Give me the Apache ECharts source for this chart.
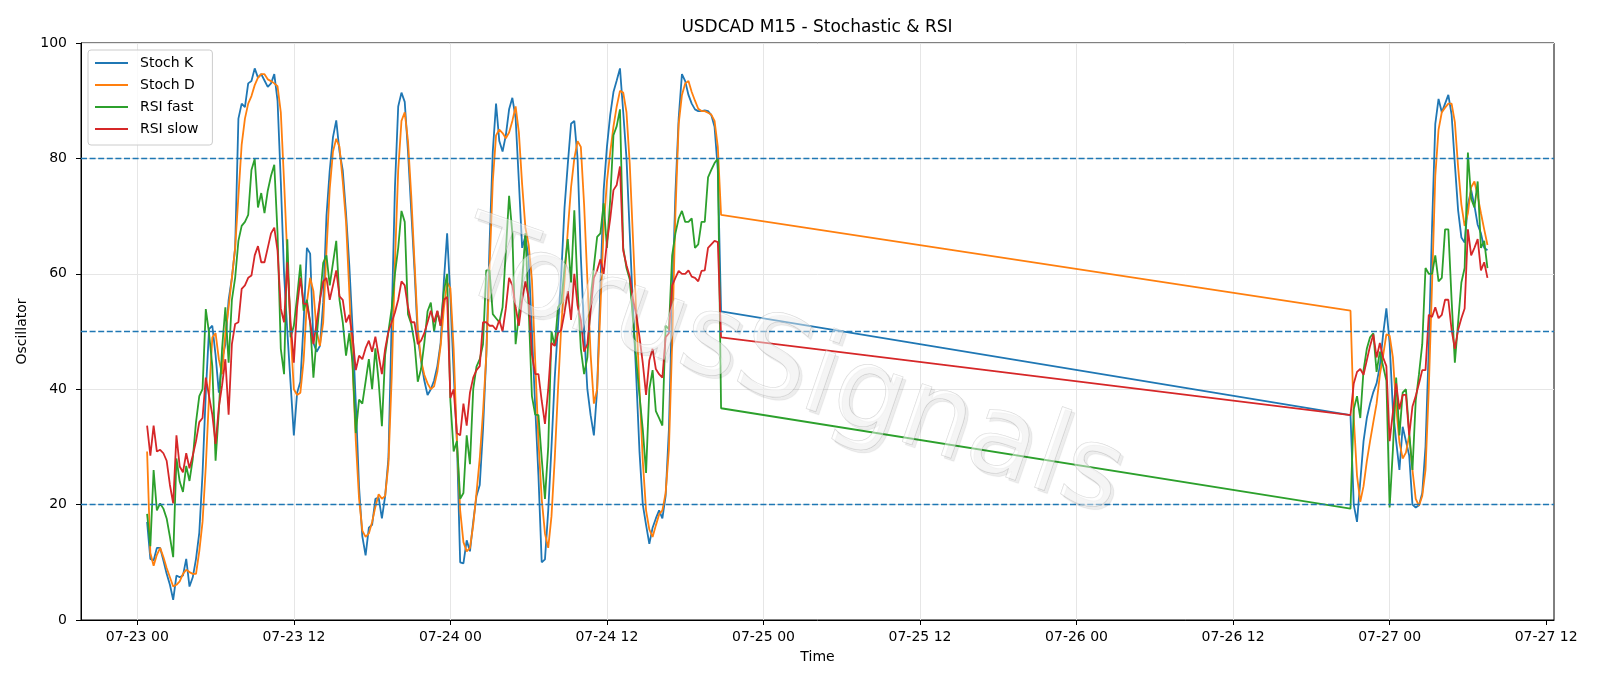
<!DOCTYPE html>
<html>
<head>
<meta charset="utf-8">
<title>USDCAD M15 - Stochastic & RSI</title>
<script src="https://cdn.jsdelivr.net/npm/echarts@6/dist/echarts.min.js"></script>
<style>
  html, body { margin: 0; padding: 0; background: #fff; }
  #main { width: 1600px; height: 686px; }
</style>
</head>
<body>
<div id="main"></div>
<script>
const chart = echarts.init(document.querySelector('#main'));

// 15 minute bars, two sessions
const STEP = 15 * 60 * 1000;
const seg1Start = new Date(2025, 6, 23, 0, 45).getTime();
const seg2Start = new Date(2025, 6, 26, 21, 0).getTime();

// x tick positions: [day of July, hour]
const tickTimes = [
    [23, 0], [23, 12], [24, 0], [24, 12], [25, 0],
    [25, 12], [26, 0], [26, 12], [27, 0], [27, 12]
];

const stochK1 = [
    17, 10.6, 10.3, 12.5, 12.5, 10.3, 8, 6.1, 3.5, 7.7,
    7.4, 7.7, 10.6, 5.8, 7.4, 10.6, 15.1, 25.4, 39.4, 50.4,
    51, 45.9, 39.4, 45.2, 47.8, 55.5, 59.3, 64.5, 86.9, 89.5,
    88.9, 93, 93.4, 95.6, 94, 94.6, 93.5, 92.4, 93, 94.6,
    90, 76, 60, 50, 41, 32, 39.4, 41.3, 51.6, 64.5,
    63.5, 48, 46.5, 47.5, 55, 70, 77.9, 83.7, 86.6, 81.2,
    77.9, 70.5, 61.5, 50.5, 37.5, 23, 14.5, 11.2, 16, 16.5,
    21, 21.2, 17.6, 21.5, 28, 52, 75, 89, 91.4, 89.8,
    81.2, 70.9, 60.6, 49, 45, 41.5, 39, 40, 41.5, 44,
    48, 58.7, 67, 56, 43, 31, 10, 9.8, 13.8, 11.9,
    17, 21.5, 23.4, 33, 45.8, 65, 81.2, 89.5, 83, 81.2,
    84, 88.5, 90.5, 87, 76, 64.5, 66.5, 62.5, 50, 37,
    25, 10, 10.5, 19, 30, 42, 51, 60, 71.5, 79,
    86, 86.5, 80, 63, 50, 40, 35.5, 32, 40, 58,
    74.5, 82, 87.5, 91.5, 93.5, 95.6, 88, 80, 67, 54,
    42, 29, 20, 16.5, 13.2, 16, 17.6, 19, 17.6, 21.5,
    33, 55, 74, 87, 94.6, 93.4, 91, 89.5, 88.5, 88.2,
    88.2, 88.3, 88.2, 87.5, 85.5, 78, 53.5
];
const stochD1 = [
    29.2, 11.6, 9.4, 11.3, 12.5, 10.9, 9, 7.4, 5.8, 6.1,
    6.7, 8, 8.7, 8.3, 8, 8, 11.9, 17, 26.6, 38.8,
    49, 49.7, 45.2, 42.6, 49.7, 54.2, 59.3, 64.5, 73.5, 82.4,
    86.9, 89.5, 90.8, 92.7, 94, 94.6, 94.6, 93.7, 93.4, 93,
    92.5, 88, 76, 63, 50, 40, 39, 39.4, 45, 55,
    59.3, 57, 50, 47.5, 51.6, 64, 74.7, 81.2, 83.4, 82,
    76, 69, 57, 44, 31, 21, 15.5, 14.4, 15, 17,
    19.6, 21.8, 21, 21.5, 27, 42, 62, 78, 86.5, 88,
    83, 73.5, 62, 50.5, 45, 42.5, 41, 40, 40.5, 43,
    47.5, 54, 58.5, 57.5, 47, 31, 19, 13.5, 11.9, 12.5,
    16.5, 22, 28, 36, 45.8, 61, 76, 84, 85, 84.4,
    83.5, 84.5, 86.5, 89, 84.5, 75.5, 68, 65, 59, 45,
    31, 21, 15, 12.5, 18, 28, 40, 51, 59, 67.5,
    75, 80, 83, 82, 72, 59, 46, 37.5, 40, 54,
    68, 76, 81, 85.5, 89, 91.7, 91.4, 88, 79, 66,
    53, 40, 27.5, 19, 15.7, 14.4, 16.4, 18.3, 19, 22,
    29.5, 48, 70.5, 86, 91, 93, 93.4, 91.5, 90, 88.6,
    88.2, 88.2, 87.9, 87.6, 86.5, 82, 70.2
];
const rsiFast1 = [
    18.4, 12.8, 26, 19, 20.2, 19.3, 17.6, 14.4, 10.9, 28,
    24, 22.2, 26.7, 24.1, 27.9, 34.3, 38.8, 40, 53.9, 49.7,
    44, 27.6, 36.2, 47.1, 54.2, 44.6, 55.5, 59.3, 65.7, 68.3,
    69, 70.2, 78, 79.9, 71.5, 74, 70.5, 74.4, 77, 78.9,
    67, 47, 42.6, 66, 49, 51, 56, 61.6, 53.6, 55.5,
    51.6, 42, 49, 55.5, 61.9, 63.2, 58, 61.9, 65.7, 55.5,
    51.6, 45.8, 49.7, 44.6, 32.4, 38.2, 37.5, 41.3, 45.2, 40,
    47.1, 41.3, 33.6, 46, 50, 54, 60, 64.5, 70.9, 69,
    53, 51.3, 48, 41.3, 43.5, 48, 53.5, 55, 50, 53.5,
    51, 57, 60, 38, 29.2, 31, 21, 22, 32, 27,
    40, 43.9, 45.2, 47.8, 60.6, 60.6, 53, 52.3, 51.6, 54.2,
    64, 73.5, 67, 47.8, 52.9, 58.7, 67, 54, 38.8, 35.6,
    35.5, 28, 21, 30, 50, 47.5, 54.2, 55, 61, 66,
    58.5, 71, 57.5, 47, 42.6, 45.5, 55.5, 61.3, 66.4, 67,
    72.2, 64.5, 72.8, 84, 85.6, 88.5, 64.5, 61, 59, 52,
    45, 38.8, 33, 25.5, 40, 43.3, 36.2, 35, 33.7, 51,
    50.4, 63.2, 67, 69.6, 70.9, 69, 69, 69.6, 64.5, 65.1,
    69, 69, 76.7, 78, 79.2, 80, 36.7
];
const rsiSlow1 = [
    33.7, 28.5, 33.7, 29.2, 29.5, 28.9, 27.6, 23.4, 20.2, 32,
    26.6, 25.6, 28.9, 26.3, 28.5, 31, 34.3, 35, 42, 38.8,
    35.6, 30.5, 36.9, 40.7, 45.2, 35.6, 47.8, 51.3, 51.6, 57.4,
    58, 59.3, 59.7, 63.2, 64.8, 62, 62, 64.5, 67, 68,
    64, 54, 51.6, 62, 51.6, 44.6, 54.2, 59.3, 54.8, 54.8,
    51.6, 47.8, 51.6, 55.5, 58.7, 59.3, 55.5, 58, 60.6, 56.1,
    55.5, 51.6, 52.9, 49.1, 43.3, 45.8, 45.2, 47.1, 48.4, 46.5,
    49.1, 45.8, 42.6, 47, 50, 51.6, 53.3, 55.5, 58.7, 58,
    54.2, 51.6, 51.6, 47.8, 48.4, 49.7, 51.6, 53.6, 51.6, 53.6,
    51, 55.5, 56, 38.5, 40, 32.4, 32, 37.5, 33.7, 39.4,
    42, 43.3, 44, 51.6, 51.6, 51, 51, 50.3, 52, 50,
    54, 59.3, 58, 54.2, 51, 55.5, 58.7, 55.8, 46, 42.6,
    42.6, 38, 34, 40, 48, 47.5, 49.7, 50.3, 53.3, 57,
    52, 60, 54.5, 52, 46.5, 47.8, 53.6, 59.3, 60.6, 62.5,
    60, 65.5, 69.5, 74.5, 75.4, 78.6, 64, 61.5, 59.5, 55.5,
    53, 49, 44.5, 39, 45, 47, 43.5, 42.6, 42, 49,
    49.7, 58, 59.3, 60.5, 60, 60, 60.6, 59.5, 59.3, 58.7,
    60.5, 60.6, 64.5, 65.1, 65.7, 65.5, 49
];

const stochK2 = [
    35.5, 20, 17, 24, 31, 35, 37.5, 39.5, 41, 44,
    49.5, 54, 48, 36.5, 31, 26, 33.5, 31, 28.5, 20,
    19.5, 19.9, 22, 30, 47, 68, 86, 90.3, 88, 89.5,
    91, 87.6, 79, 71, 66.3, 65.4, 72, 74.5, 71.8, 68.5,
    67, 64.5, 64.1
];
const stochD2 = [
    53.6, 35, 25, 20.5, 23.2, 27.5, 31, 34.3, 37.5, 42.5,
    45.8, 49.5, 49.3, 45.5, 37, 30.8, 28, 29, 32, 26,
    21, 19.8, 21.5, 26, 40, 58, 77, 85, 88, 88.8,
    89.5, 89.5, 86.3, 78.5, 72, 68.3, 70.5, 75, 76, 73.5,
    70.5, 67.7, 65
];
const rsiFast2 = [
    19.3, 36.5, 38.8, 35, 43.3, 47, 49, 49.7, 43, 46.5,
    44, 41.5, 19.5, 29.5, 42, 32, 39.4, 40, 32.5, 26,
    38, 42.6, 47.8, 61, 60, 60, 63.2, 58.7, 59.3, 67.7,
    67.7, 55.5, 44.6, 51.6, 58.5, 61, 81, 73, 71.5, 76,
    64.5, 65.7, 61
];
const rsiSlow2 = [
    35.5, 41, 43, 43.5, 42.5, 45, 47.5, 49.5, 45.5, 48,
    45.5, 44, 31, 36, 41, 36.5, 39, 39, 32, 37,
    38.8, 41, 43.3, 43.3, 52.9, 52.5, 54.2, 52.3, 52.9, 55.5,
    55.5, 50.3, 47, 50.3, 52.3, 54, 67.7, 63.2, 64.5, 66,
    60.6, 62, 59.3
];

const levels = [20, 50, 80];

const FONT = '"DejaVu Sans", "Liberation Sans", sans-serif';

function pad(n) {
    return n < 10 ? '0' + n : '' + n;
}

function fmtTime(value) {
    const d = new Date(value);
    return pad(d.getMonth() + 1) + '-' + pad(d.getDate()) + ' ' + pad(d.getHours());
}

function buildData(part1, part2) {
    const out = [];
    part1.forEach((v, i) => out.push([seg1Start + i * STEP, v]));
    part2.forEach((v, j) => out.push([seg2Start + j * STEP, v]));
    return out;
}

function lineSeries(name, color, part1, part2) {
    return {
        name: name,
        type: 'line',
        data: buildData(part1, part2),
        showSymbol: false,
        symbol: 'none',
        lineStyle: { color: color, width: 1.8 },
        itemStyle: { color: color }
    };
}

const tickValues = tickTimes.map((t) => new Date(2025, 6, t[0], t[1]).getTime());

let series = [
    lineSeries('Stoch K', '#1f77b4', stochK1, stochK2),
    lineSeries('Stoch D', '#ff7f0e', stochD1, stochD2),
    lineSeries('RSI fast', '#2ca02c', rsiFast1, rsiFast2),
    lineSeries('RSI slow', '#d62728', rsiSlow1, rsiSlow2)
];

// horizontal reference levels
series[0].markLine = {
    silent: true,
    symbol: ['none', 'none'],
    label: { show: false },
    lineStyle: { color: '#1f77b4', type: [6, 2.6], width: 1.3 },
    data: levels.map((v) => ({ yAxis: v }))
};

// vertical grid at the 12h ticks, kept under the lines
series[1].markLine = {
    silent: true,
    z: 1,
    symbol: ['none', 'none'],
    label: { show: false },
    lineStyle: { color: '#e6e6e6', type: 'solid', width: 1 },
    data: tickValues.slice(0, -1).map((t) => ({ xAxis: t }))
};

let option = {
    animation: false,
    backgroundColor: '#fff',
    title: {
        text: 'USDCAD M15 - Stochastic & RSI',
        left: 812,
        top: 14,
        textAlign: 'center',
        textStyle: { fontFamily: FONT, fontSize: 17, fontWeight: 'normal', color: '#000' }
    },
    legend: {
        orient: 'vertical',
        left: 88,
        top: 50,
        icon: 'rect',
        itemWidth: 33,
        itemHeight: 2,
        itemGap: 6,
        padding: [5, 14, 8, 7],
        borderColor: '#cccccc',
        borderWidth: 1,
        borderRadius: 3,
        backgroundColor: 'rgba(255,255,255,0.8)',
        textStyle: { fontFamily: FONT, fontSize: 14, color: '#000', lineHeight: 16, padding: [0, 0, 0, 7] },
        data: ['Stoch K', 'Stoch D', 'RSI fast', 'RSI slow']
    },
    grid: {
        left: 81,
        right: 46,
        top: 43,
        bottom: 66,
        show: true,
        borderColor: '#000',
        borderWidth: 1
    },
    xAxis: {
        type: 'value',
        min: new Date(2025, 6, 22, 19, 41).getTime(),
        max: new Date(2025, 6, 27, 12, 36).getTime(),
        name: 'Time',
        nameLocation: 'middle',
        nameGap: 30,
        nameTextStyle: { fontFamily: FONT, fontSize: 14, color: '#000' },
        axisLine: { show: true, onZero: false, lineStyle: { color: '#000', width: 1 } },
        axisTick: { show: true, length: 5, lineStyle: { color: '#000' }, customValues: tickValues },
        axisLabel: {
            formatter: fmtTime,
            color: '#000',
            fontFamily: FONT,
            fontSize: 14,
            margin: 10,
            customValues: tickValues
        },
        splitLine: { show: false }
    },
    yAxis: {
        type: 'value',
        min: 0,
        max: 100,
        interval: 20,
        name: 'Oscillator',
        nameLocation: 'middle',
        nameGap: 48,
        nameRotate: 90,
        nameTextStyle: { fontFamily: FONT, fontSize: 14, color: '#000' },
        axisLine: { show: true, onZero: false, lineStyle: { color: '#000', width: 1 } },
        axisTick: { show: true, length: 5, lineStyle: { color: '#000' } },
        axisLabel: { color: '#000', fontFamily: FONT, fontSize: 14, margin: 14 },
        splitLine: { show: true, lineStyle: { color: '#e6e6e6', width: 1 } }
    },
    graphic: [
        {
            type: 'text',
            x: 790,
            y: 372,
            rotation: -19 * Math.PI / 180,
            z: 100,
            silent: true,
            style: {
                text: 'TorusSignals',
                x: 0,
                y: 0,
                align: 'center',
                verticalAlign: 'middle',
                fontFamily: FONT,
                fontSize: 112,
                fill: 'rgba(255,255,255,0.45)',
                stroke: 'rgba(175,175,175,0.5)',
                lineWidth: 0.8,
                textShadowColor: 'rgba(0,0,0,0.16)',
                textShadowBlur: 1,
                textShadowOffsetX: 3,
                textShadowOffsetY: 3
            }
        }
    ],
    series: series
};

chart.setOption(option);
</script>
</body>
</html>
